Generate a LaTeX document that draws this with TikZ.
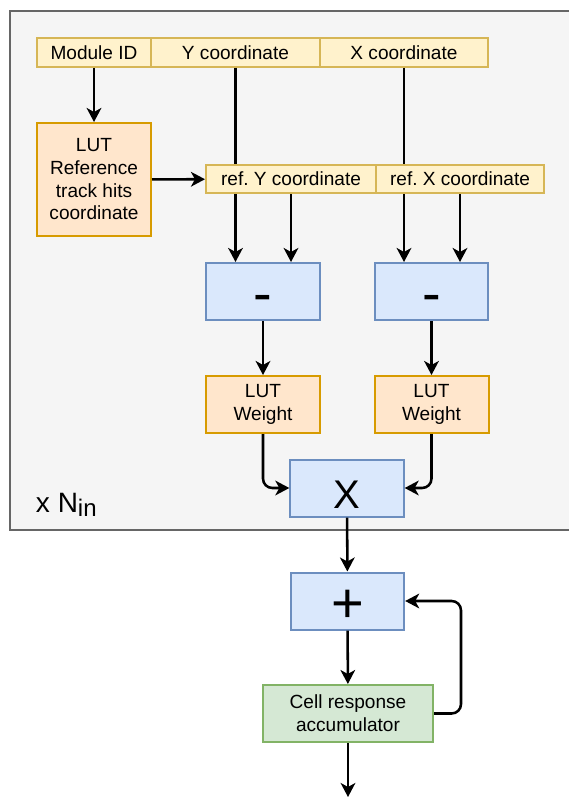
\documentclass[tikz,border=0pt]{standalone}
\usepackage{fontspec}
\setmainfont{Liberation Sans}
\frenchspacing
\usetikzlibrary{arrows.meta}
\definecolor{cellfill}{HTML}{FFF2CC}
\definecolor{celldraw}{HTML}{D6B656}
\definecolor{lutfill}{HTML}{FFE6CC}
\definecolor{lutdraw}{HTML}{D79B00}
\definecolor{opfill}{HTML}{DAE8FC}
\definecolor{opdraw}{HTML}{6C8EBF}
\definecolor{accfill}{HTML}{D5E8D4}
\definecolor{accdraw}{HTML}{82B366}
\definecolor{framefill}{HTML}{F5F5F5}
\definecolor{framedraw}{HTML}{666666}
\begin{document}
\begin{tikzpicture}[
    x=0.75pt, y=-0.75pt,
    every node/.style={draw, line width=1.5pt, inner sep=0pt, align=center, font=\fontsize{14.3}{17}\selectfont},
    field/.style={fill=cellfill, draw=celldraw, minimum height=21.5pt},
    lut/.style={fill=lutfill, draw=lutdraw, minimum width=85.5pt},
    op/.style={fill=opfill, draw=opdraw, minimum width=85pt, minimum height=42.75pt, text height=32pt, text depth=0pt}, % symbol sits low in the box
    acc/.style={fill=accfill, draw=accdraw, minimum width=127.5pt, minimum height=42.75pt},
    wire/.style={line width=1.9pt},
    arr/.style={wire, -{Stealth[length=10.5pt, width=11pt, inset=3pt]}},
    ]
    \useasboundingbox (0,0) rectangle (568,799);
    \draw[fill=framefill, draw=framedraw, line width=1.2pt] (10,11) rectangle (580,530);

    % input word
    \node[field, minimum width=85.5pt] (moduleid) at (94,52.5) {Module ID};
    \node[field, minimum width=126.75pt] (ycoord) at (235.5,52.5) {Y coordinate};
    \node[field, minimum width=126pt] (xcoord) at (404,52.5) {X coordinate};

    \node[lut, minimum height=84.75pt] (lutref) at (94,179.5) {LUT\\Reference\\track hits\\coordinate};
    \node[field, minimum width=127.5pt, minimum height=21pt] (refy) at (291,179) {ref. Y coordinate};
    \node[field, minimum width=126pt, minimum height=21pt] (refx) at (460,179) {ref. X coordinate};

    \node[op, font=\fontsize{42}{42}\selectfont] (minusy) at (263,291.5) {-};
    \node[op, font=\fontsize{42}{42}\selectfont] (minusx) at (431.5,291.5) {-};

    \node[lut, minimum height=42.75pt] (lutwy) at (263,404.5) {LUT\\Weight};
    \node[lut, minimum height=42.75pt] (lutwx) at (431.5,404.5) {LUT\\Weight};

    \node[op, font=\fontsize{30}{30}\selectfont, text height=31pt] (mult) at (347,488) {X};
    \node[op, font=\fontsize{42}{42}\selectfont] (plus) at (347.5,601) {+};
    \node[acc] (cell) at (348,713.5) {Cell response\\accumulator};
    \coordinate (out) at (348,797);

    \node[draw=none, anchor=base west] (nin) at (35,512) {\fontsize{21}{21}\selectfont x N\raisebox{-3pt}{\fontsize{18}{18}\selectfont in}};

    % connections
    \draw[arr] (moduleid) -- (lutref);
    \draw[arr] (lutref) -- (refy);
    \draw[wire] (ycoord) -- (ycoord |- refy.north);
    \draw[arr] (ycoord |- refy.south) -- (ycoord |- minusy.north);
    \draw[arr] (refy) -- (refy |- minusy.north);
    \draw[wire] (xcoord) -- (xcoord |- refx.north);
    \draw[arr] (xcoord |- refx.south) -- (xcoord |- minusx.north);
    \draw[arr] (refx) -- (refx |- minusx.north);
    \draw[arr] (minusy) -- (lutwy);
    \draw[arr] (minusx) -- (lutwx);
    \draw[arr, rounded corners=7pt] (lutwy) |- (mult);
    \draw[arr, rounded corners=7pt] (lutwx) |- (mult);
    \draw[arr] (mult) -- (plus);
    \draw[arr] (plus) -- (cell);
    \draw[arr, rounded corners=7pt] (cell.east) -- ++(27,0) |- (plus.east);
    \draw[arr] (cell) -- (out);
\end{tikzpicture}
\end{document}
